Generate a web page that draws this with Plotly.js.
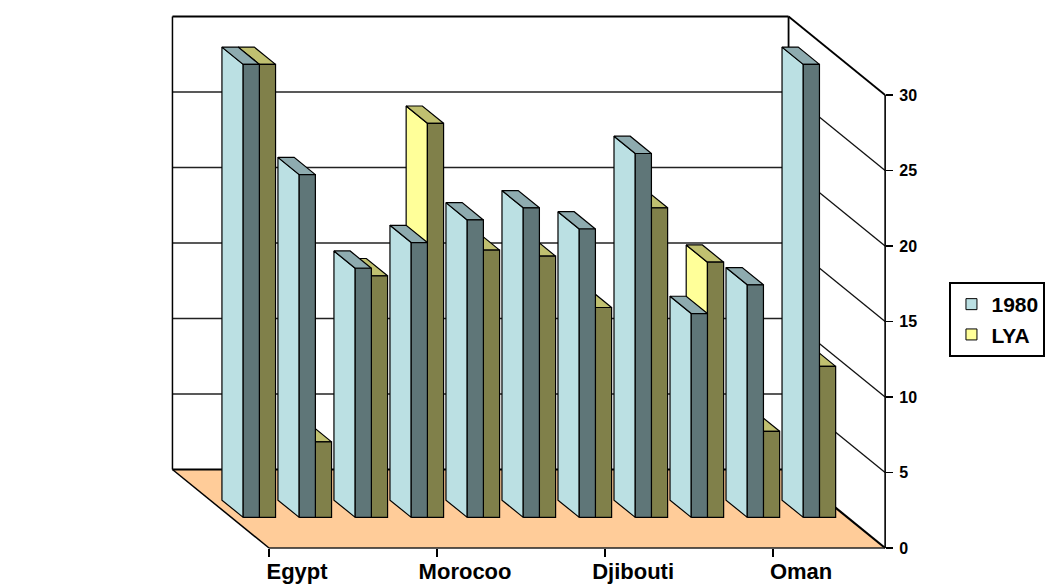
<!DOCTYPE html>
<html>
<head>
<meta charset="utf-8">
<script src="https://cdn.plot.ly/plotly-3.0.1.min.js"></script>
<style>html,body{margin:0;padding:0;background:#fff;} #chart{width:1057px;height:587px;}</style>
</head>
<body>
<div id="chart"></div>
<script>
// ---- data ----
const categories = ['Egypt', '', '', 'Morocoo', '', '', 'Djibouti', '', '', 'Oman', ''];
const seriesNames = ['1980', 'LYA'];
const values1980 = [30, 22.7, 16.5, 18.2, 19.7, 20.5, 19.1, 24.1, 13.5, 15.4, 30];
const valuesLYA  = [30, 5.0, 16.0, 26.1, 17.7, 17.3, 13.9, 20.5, 16.9, 5.7, 10.0];
const yTickValues = [0, 5, 10, 15, 20, 25, 30];
const tickEvery = 3;

// ---- styling / geometry ----
const COLORS = [
  {side: '#BBE0E3', front: '#5F7678', top: '#8EABAF'},
  {side: '#FFFF99', front: '#80804A', top: '#C0C070'}
];
const FLOOR = '#FFCC99';
const NCAT = categories.length;
const VMAX = 30;
const PX_CAT = 56.55, PX_VAL = 15.1;          // px per category / per value unit
const ORIGIN = {x: 270, y: 548};              // front-left floor corner (px)
const DEPTH_PX = {x: 97.5, y: 78.5};          // full-depth oblique offset (px)
const DX = DEPTH_PX.x / PX_CAT, DY = DEPTH_PX.y / PX_VAL;
const BAR_W = 0.289, D0 = 0.39, D1 = 0.61;
const PLOT = {L: 168, R: 900, T: 12, B: 552};
const W = 1057, H = 587;

const xr = [(PLOT.L - ORIGIN.x) / PX_CAT, (PLOT.R - ORIGIN.x) / PX_CAT];
const yr = [-(PLOT.B - ORIGIN.y) / PX_VAL, (ORIGIN.y - PLOT.T) / PX_VAL];

function P(c, d, v) { return [c - d * DX, v + d * DY]; }
const traces = [];
function poly(pts, opts) {
  const closed = opts.closed !== false;
  const xs = pts.map(p => p[0]), ys = pts.map(p => p[1]);
  if (closed) { xs.push(xs[0]); ys.push(ys[0]); }
  traces.push({
    type: 'scatter', mode: 'lines', x: xs, y: ys,
    fill: opts.fill ? 'toself' : 'none', fillcolor: opts.fill || 'rgba(0,0,0,0)',
    line: {color: opts.lc || '#000', width: opts.lw === undefined ? 1 : opts.lw},
    hoverinfo: 'skip', showlegend: false
  });
}

// back wall
poly([P(0,1,0), P(NCAT,1,0), P(NCAT,1,VMAX), P(0,1,VMAX)], {fill: '#fff', lw: 0});
yTickValues.filter(v => v > 0 && v < VMAX).forEach(v => {
  poly([P(0,1,v), P(NCAT,1,v)], {closed: false, lw: 1.3, lc: '#222'});
  poly([P(NCAT,1,v), P(NCAT,0,v)], {closed: false, lw: 1.3, lc: '#111'});
});
poly([P(0,1,VMAX), P(NCAT,1,VMAX)], {closed: false, lw: 2.2});
poly([P(NCAT,1,VMAX), P(NCAT,0,VMAX)], {closed: false, lw: 1.8});
poly([P(0,1,0), P(0,1,VMAX)], {closed: false, lw: 1.5});
poly([P(NCAT,1,0), P(NCAT,1,VMAX)], {closed: false, lw: 1.8});
// floor
poly([P(0,0,0), P(NCAT,0,0), P(NCAT,1,0), P(0,1,0)], {fill: FLOOR, lw: 0});
poly([P(0,1,0), P(NCAT,1,0)], {closed: false, lw: 2});
poly([P(0,1,0), P(0,0,0)], {closed: false, lw: 1.5});
poly([P(NCAT,1,0), P(NCAT,0,0)], {closed: false, lw: 2.2});

// bars: right-to-left so nearer (left) bars cover their neighbours
const series = [values1980, valuesLYA];
for (let i = NCAT - 1; i >= 0; i--) {
  for (let s = series.length - 1; s >= 0; s--) {
    const v = series[s][i];
    const x0 = i + 0.5 - BAR_W + s * BAR_W, x1 = x0 + BAR_W;
    const c = COLORS[s];
    poly([P(x0,D0,0), P(x0,D0,v), P(x0,D1,v), P(x0,D1,0)], {fill: c.side, lw: 1.2});
    poly([P(x0,D0,v), P(x1,D0,v), P(x1,D1,v), P(x0,D1,v)], {fill: c.top, lw: 1.2});
    poly([P(x0,D0,0), P(x1,D0,0), P(x1,D0,v), P(x0,D0,v)], {fill: c.front, lw: 1.2});
  }
}
// front axis lines
poly([P(0,0,0), P(NCAT,0,0)], {closed: false, lw: 1.6, lc: '#222'});
poly([P(NCAT,0,0), P(NCAT,0,VMAX)], {closed: false, lw: 1.6});

// legend entries
seriesNames.forEach((n, s) => traces.push({
  type: 'scatter', mode: 'markers', x: [null], y: [null], name: n,
  legendgroup: 'g' + s, hoverinfo: 'skip',
  marker: {symbol: 'square', size: 11, color: COLORS[s].side, line: {color: '#000', width: 1}}
}));
// dummy for label axis
traces.push({type: 'scatter', mode: 'markers', x: [null], y: [null], xaxis: 'x2', showlegend: false, hoverinfo: 'skip'});

const tickIdx = categories.map((c, i) => i).filter(i => i % tickEvery === 0);
const labelIdx = categories.map((c, i) => i).filter(i => categories[i] !== '');
const xPos = (0 - yr[0]) / (yr[1] - yr[0]);
const yPos = (NCAT - xr[0]) / (xr[1] - xr[0]);
const bold = {family: 'Liberation Sans, Arial, sans-serif', color: '#000', weight: 700};

const layout = {
  width: W, height: H,
  margin: {l: PLOT.L, r: W - PLOT.R, t: PLOT.T, b: H - PLOT.B, pad: 0},
  paper_bgcolor: '#fff', plot_bgcolor: 'rgba(0,0,0,0)',
  showlegend: true,
  xaxis: {range: xr, anchor: 'free', position: xPos, showgrid: false, zeroline: false,
    showline: false, tickmode: 'array', tickvals: tickIdx, ticks: 'outside', ticklen: 8,
    tickwidth: 1.5, tickcolor: '#000', showticklabels: false, automargin: false, fixedrange: true},
  xaxis2: {range: xr, overlaying: 'x', anchor: 'free', position: xPos, side: 'bottom',
    showgrid: false, zeroline: false, showline: false, tickmode: 'array',
    tickvals: labelIdx.map(i => i + 0.5), ticktext: labelIdx.map(i => categories[i]),
    ticks: '', tickfont: Object.assign({size: 22}, bold), ticklabelstandoff: 8, automargin: false, fixedrange: true},
  yaxis: {range: yr, anchor: 'free', position: yPos, side: 'right', showgrid: false,
    zeroline: false, showline: false, tickmode: 'array', tickvals: yTickValues,
    ticks: 'outside', ticklen: 7, tickwidth: 1.5, tickcolor: '#000', ticklabelstandoff: 3,
    tickfont: Object.assign({size: 16}, bold), automargin: false, fixedrange: true},
  legend: {x: (957 - PLOT.L) / (PLOT.R - PLOT.L), y: (PLOT.B - 282) / (PLOT.B - PLOT.T),
    xanchor: 'left', yanchor: 'top', bgcolor: '#fff', bordercolor: '#000', borderwidth: 2,
    font: Object.assign({size: 21}, bold), itemwidth: 30, tracegroupgap: 0},
};

Plotly.newPlot('chart', traces, layout, {staticPlot: true, displayModeBar: false});
</script>
</body>
</html>
